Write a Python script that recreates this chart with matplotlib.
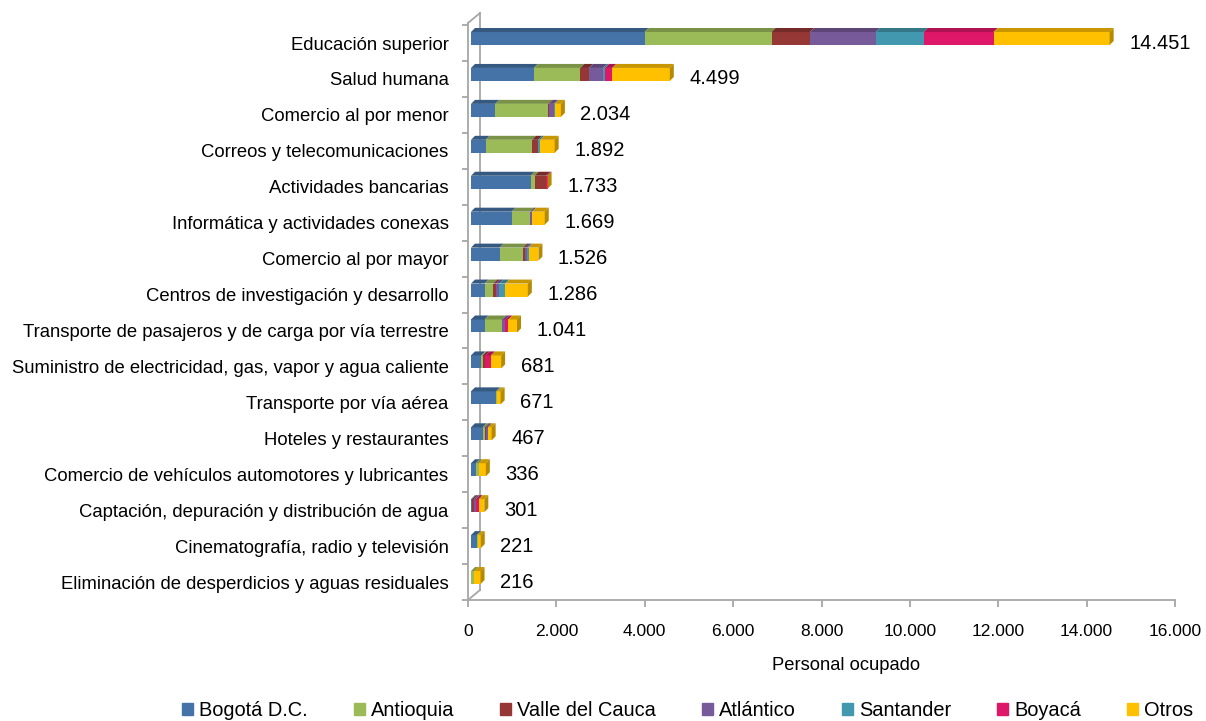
import matplotlib.pyplot as plt
import numpy as np
from matplotlib.patches import Polygon
from matplotlib.lines import Line2D

plt.rcParams['font.family'] = ['Liberation Sans', 'DejaVu Sans']

# Categories, top to bottom as in the picture
sectores = [
    'Educación superior',
    'Salud humana',
    'Comercio al por menor',
    'Correos y telecomunicaciones',
    'Actividades bancarias',
    'Informática y actividades conexas',
    'Comercio al por mayor',
    'Centros de investigación y desarrollo',
    'Transporte de pasajeros y de carga por vía terrestre',
    'Suministro de electricidad, gas, vapor y agua caliente',
    'Transporte por vía aérea',
    'Hoteles y restaurantes',
    'Comercio de vehículos automotores y lubricantes',
    'Captación, depuración y distribución de agua',
    'Cinematografía, radio y televisión',
    'Eliminación de desperdicios y aguas residuales',
]

regiones = ['Bogotá D.C.', 'Antioquia', 'Valle del Cauca', 'Atlántico',
            'Santander', 'Boyacá', 'Otros']

bogota = [3928, 1421, 551, 332, 1350, 920, 649, 309, 309, 234, 566, 264, 113, 23, 128, 0]
antioquia = [2873, 1055, 1192, 1048, 90, 415, 528, 196, 400, 30, 30, 45, 60, 0, 23, 75]
valle = [872, 194, 30, 136, 256, 0, 45, 60, 0, 60, 0, 30, 0, 45, 0, 0]
atlantico = [1485, 312, 98, 0, 0, 45, 53, 75, 68, 0, 0, 45, 0, 45, 0, 0]
santander = [1087, 54, 23, 53, 0, 0, 30, 136, 0, 0, 0, 0, 0, 0, 0, 0]
boyaca = [1582, 161, 0, 0, 37, 0, 0, 0, 68, 128, 0, 0, 0, 60, 0, 0]
otros = [2626, 1302, 140, 324, 0, 289, 221, 510, 196, 229, 75, 83, 163, 128, 70, 141]

totales = [14451, 4499, 2034, 1892, 1733, 1669, 1526, 1286, 1041, 681, 671, 467, 336, 301, 221, 216]

colores = ['#4572A7', '#9BBB59', '#953735', '#775A99', '#4198AF', '#DF1769', '#FFC000']

series = [bogota, antioquia, valle, atlantico, santander, boyaca, otros]

fig = plt.figure(figsize=(12.06, 7.21), dpi=100)
ax = fig.add_axes([468 / 1206, 1 - 600 / 721, 707 / 1206, 587 / 721])

n = len(sectores)
y = np.arange(n)[::-1]  # first category at the top
ax.set_xlim(0, 16000)
ax.set_ylim(-0.5, 15.835)

# pixel -> data conversions for the fake 3D depth
px_x = 16000 / 707
px_y = 16.335 / 587
dx, dy = 4 * px_x, 4 * px_y
h = 13 * px_y
yc = y + 4.5 * px_y
x0 = 3 * px_x  # bars sit a little in front of the wall


def darker(c, f=0.78):
    r, g, b = [int(c[i:i + 2], 16) / 255 for i in (1, 3, 5)]
    return (r * f, g * f, b * f)


left = np.zeros(n) + x0
for vals, col in zip(series, colores):
    vals = np.array(vals, dtype=float)
    ax.barh(yc, vals, height=h, left=left, color=col, linewidth=0, zorder=3)
    for i in range(n):
        if vals[i] <= 0:
            continue
        l, w = left[i], vals[i]
        top = yc[i] + h / 2
        ax.add_patch(Polygon([(l, top), (l + w, top), (l + w + dx, top + dy), (l + dx, top + dy)],
                             closed=True, facecolor=darker(col), linewidth=0, zorder=3))
    left += vals

# side face of the stacked bar and value labels
for i in range(n):
    R = left[i]
    top = yc[i] + h / 2
    bot = yc[i] - h / 2
    ax.add_patch(Polygon([(R, bot), (R, top), (R + dx, top + dy), (R + dx, bot + dy)],
                         closed=True, facecolor='#B58A00', linewidth=0, zorder=3))
    ax.annotate(f'{totales[i]:,}'.replace(',', '.'), xy=(R, y[i]), xytext=(14, 0),
                textcoords='offset points', ha='left', va='center', fontsize=14.5)

# wall on the left
wx, wy = 12 * px_x, 10 * px_y
ytop_front = 15.557
wall = dict(color='#A6A6A6', lw=1.3, clip_on=False, zorder=2)
ax.add_line(Line2D([0, 0], [-0.5, ytop_front], **wall))
ax.add_line(Line2D([wx, wx], [-0.5 + wy, ytop_front + wy], **wall))
ax.add_line(Line2D([0, wx], [ytop_front, ytop_front + wy], **wall))
ax.add_line(Line2D([0, wx], [-0.5, -0.5 + wy], **wall))

for s in ['top', 'right', 'left']:
    ax.spines[s].set_visible(False)
ax.spines['bottom'].set_color('#A6A6A6')
ax.spines['bottom'].set_linewidth(1.3)

ax.set_yticks(y)
ax.set_yticklabels(sectores, fontsize=13.3)
ax.set_yticks(np.arange(-0.5, n, 1.0), minor=True)
ax.tick_params(axis='y', which='major', length=0, pad=14)
ax.tick_params(axis='y', which='minor', length=4, width=1.3, color='#A6A6A6', left=True)

xt = np.arange(0, 16001, 2000)
ax.set_xticks(xt)
ax.set_xticklabels([f'{v:,}'.replace(',', '.') for v in xt], fontsize=12.5)
ax.tick_params(axis='x', length=5, width=1.3, color='#A6A6A6', pad=12)

fig.text(846 / 1206, 1 - 665 / 721, 'Personal ocupado', ha='center', va='center', fontsize=13.2)

handles = [plt.Rectangle((0, 0), 1, 1, color=c) for c in colores]
fig.legend(handles, regiones, loc='center', bbox_to_anchor=(0.57, 1 - 711 / 721),
           ncol=7, frameon=False, fontsize=14.4, handlelength=0.55, handleheight=0.55,
           handletextpad=0.3, columnspacing=2.3, borderaxespad=0)

fig.savefig('out.png', dpi=100)
